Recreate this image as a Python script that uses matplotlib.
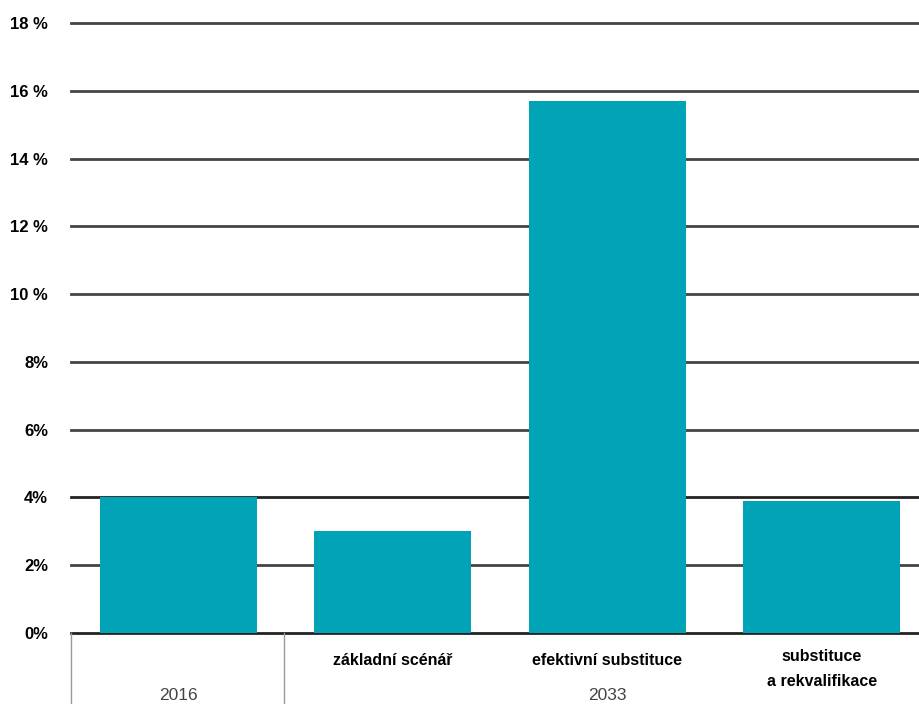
import numpy as np
import matplotlib
matplotlib.use("Agg")
import matplotlib.pyplot as plt

# data
categories = ["", "základní scénář", "efektivní substituce", "substituce\na rekvalifikace"]
values = [4.0, 3.0, 15.7, 3.9]
groups = ["2016", "2033"]
yticks = [0, 2, 4, 6, 8, 10, 12, 14, 16, 18]

plt.rcParams['font.family'] = ['Liberation Sans', 'DejaVu Sans']

fig = plt.figure(figsize=(9.2, 7.04), dpi=100)
ax = fig.add_axes([0.0772, 0.1009, 0.9228, 0.8664])

x = np.arange(len(values))
ax.bar(x, values, width=0.73, color="#00a4b6", zorder=3)

ax.set_ylim(0, 18)
ax.set_xlim(-0.5, 3.458)
ax.set_yticks(yticks)
ax.set_yticklabels([f"{t} %" if t >= 10 else f"{t}%" for t in yticks],
                   fontsize=12, fontweight="bold")
ax.tick_params(axis="y", length=0, pad=16.5)
ax.set_xticks([])
for s in ax.spines.values():
    s.set_visible(False)
for t in yticks:
    c = "#222222" if t in (0, 4) else "#444444"
    ax.axhline(t, color=c, lw=2, zorder=2, clip_on=False)

# category table below the axis
for xv in [-0.5, 0.493]:
    ax.plot([xv, xv], [0, -2.2], color="#999999", lw=1, clip_on=False)
for i, c in enumerate(categories):
    if "\n" in c:
        ax.text(i, -1.07, c, ha="center", va="center", fontsize=11.5,
                fontweight="bold", linespacing=1.8)
    else:
        ax.text(i, -0.8, c, ha="center", va="center", fontsize=11.5,
                fontweight="bold")
ax.text(0, -1.85, groups[0], ha="center", va="center", fontsize=12.5, color="#444444")
ax.text(2, -1.85, groups[1], ha="center", va="center", fontsize=12.5, color="#444444")

fig.savefig("out.png", dpi=100)
